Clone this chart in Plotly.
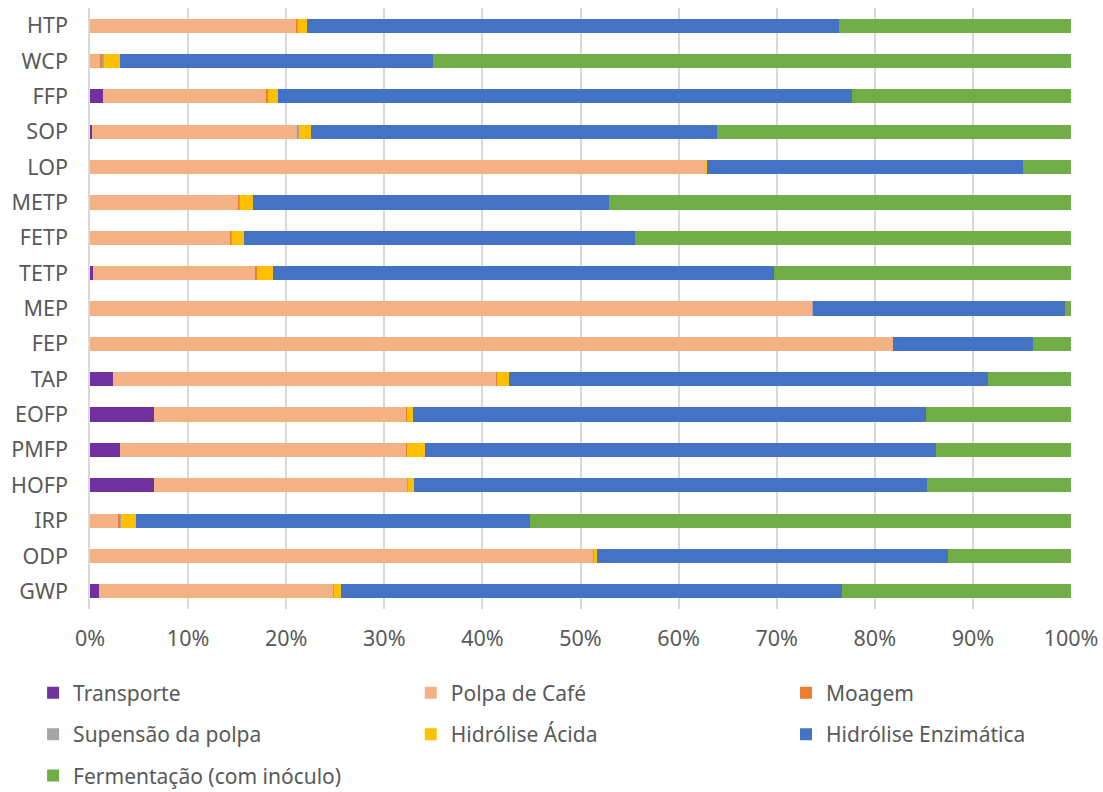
import plotly.graph_objects as go

# Impact categories, listed top to bottom
categories = ["HTP", "WCP", "FFP", "SOP", "LOP", "METP", "FETP", "TETP", "MEP",
              "FEP", "TAP", "EOFP", "PMFP", "HOFP", "IRP", "ODP", "GWP"]

# Contribution of each process stage (% of each category total)
transporte = [0.0, 0.0, 1.3, 0.2, 0.0, 0.0, 0.0, 0.3, 0.0,
              0.0, 2.35, 6.5, 3.1, 6.5, 0.0, 0.0, 0.9]
polpa_cafe = [21.1, 1.1, 16.7, 21.0, 62.9, 15.1, 14.3, 16.6, 73.7,
              81.9, 39.05, 25.8, 29.2, 25.85, 2.9, 51.3, 23.9]
moagem = [0.05, 0.2, 0.15, 0.1, 0.02, 0.15, 0.15, 0.15, 0.02,
          0.02, 0.1, 0.05, 0.05, 0.05, 0.2, 0.05, 0.05]
suspensao = [0.02, 0.1, 0.02, 0.02, 0.01, 0.02, 0.02, 0.02, 0.01,
             0.01, 0.02, 0.02, 0.02, 0.02, 0.05, 0.02, 0.02]
hidrolise_acida = [0.95, 1.65, 1.0, 1.2, 0.05, 1.35, 1.25, 1.55, 0.0,
                   0.0, 1.25, 0.55, 1.8, 0.6, 1.5, 0.3, 0.7]
hidrolise_enzimatica = [54.25, 31.94, 58.53, 41.4, 32.2, 36.3, 39.8, 51.1, 25.7,
                        14.2, 48.75, 52.3, 52.05, 52.3, 40.2, 35.85, 51.15]
fermentacao = [23.65, 65.0, 22.3, 36.1, 4.9, 47.1, 44.5, 30.3, 0.6,
               3.9, 8.5, 14.8, 13.8, 14.7, 55.2, 12.5, 23.3]

x_ticks = [0, 10, 20, 30, 40, 50, 60, 70, 80, 90, 100]

# Legend is laid out in three columns, one plotly legend per column
series = [
    ("Transporte", transporte, "#7030A0", "legend"),
    ("Polpa de Café", polpa_cafe, "#F4B183", "legend2"),
    ("Moagem", moagem, "#ED7D31", "legend3"),
    ("Supensão da polpa", suspensao, "#A5A5A5", "legend"),
    ("Hidrólise Ácida", hidrolise_acida, "#FFC000", "legend2"),
    ("Hidrólise Enzimática", hidrolise_enzimatica, "#4472C4", "legend3"),
    ("Fermentação (com inóculo)", fermentacao, "#70AD47", "legend"),
]

fig = go.Figure()
for name, vals, color, leg in series:
    fig.add_trace(go.Bar(
        y=categories, x=vals, name=name, orientation="h",
        marker=dict(color=color, line=dict(width=0)),
        legend=leg, legendgroup=name,
    ))

font_family = "Noto Sans"
txt_color = "#595959"

legend_common = dict(
    orientation="v", y=-0.106, xanchor="left", yanchor="top",
    itemwidth=30, tracegroupgap=11, traceorder="grouped",
    font=dict(family=font_family, size=21, color=txt_color),
    bgcolor="rgba(0,0,0,0)",
)

fig.update_layout(
    width=1103, height=792,
    barmode="stack", barnorm="percent", bargap=0.6,
    paper_bgcolor="white", plot_bgcolor="white",
    margin=dict(l=90, r=32, t=8, b=183, autoexpand=False),
    font=dict(family=font_family, size=21, color=txt_color),
    legend=dict(x=-0.058, **legend_common),
    legend2=dict(x=0.327, **legend_common),
    legend3=dict(x=0.7095, **legend_common),
    xaxis=dict(
        range=[0, 100], tickvals=x_ticks,
        ticktext=[f"{v}%" for v in x_ticks],
        showgrid=True, gridcolor="#D9D9D9", gridwidth=1.5,
        zeroline=False, showline=False, ticks="",
        ticklabelstandoff=14, automargin=False,
        tickfont=dict(family=font_family, size=21.5, color=txt_color),
    ),
    yaxis=dict(
        categoryorder="array", categoryarray=categories,
        autorange="reversed", automargin=False,
        showgrid=False, zeroline=False,
        showline=True, linecolor="#D9D9D9", linewidth=1.5,
        ticks="", ticklabelstandoff=16,
        tickfont=dict(family=font_family, size=21.5, color=txt_color),
    ),
)

fig.write_html("out.html")
